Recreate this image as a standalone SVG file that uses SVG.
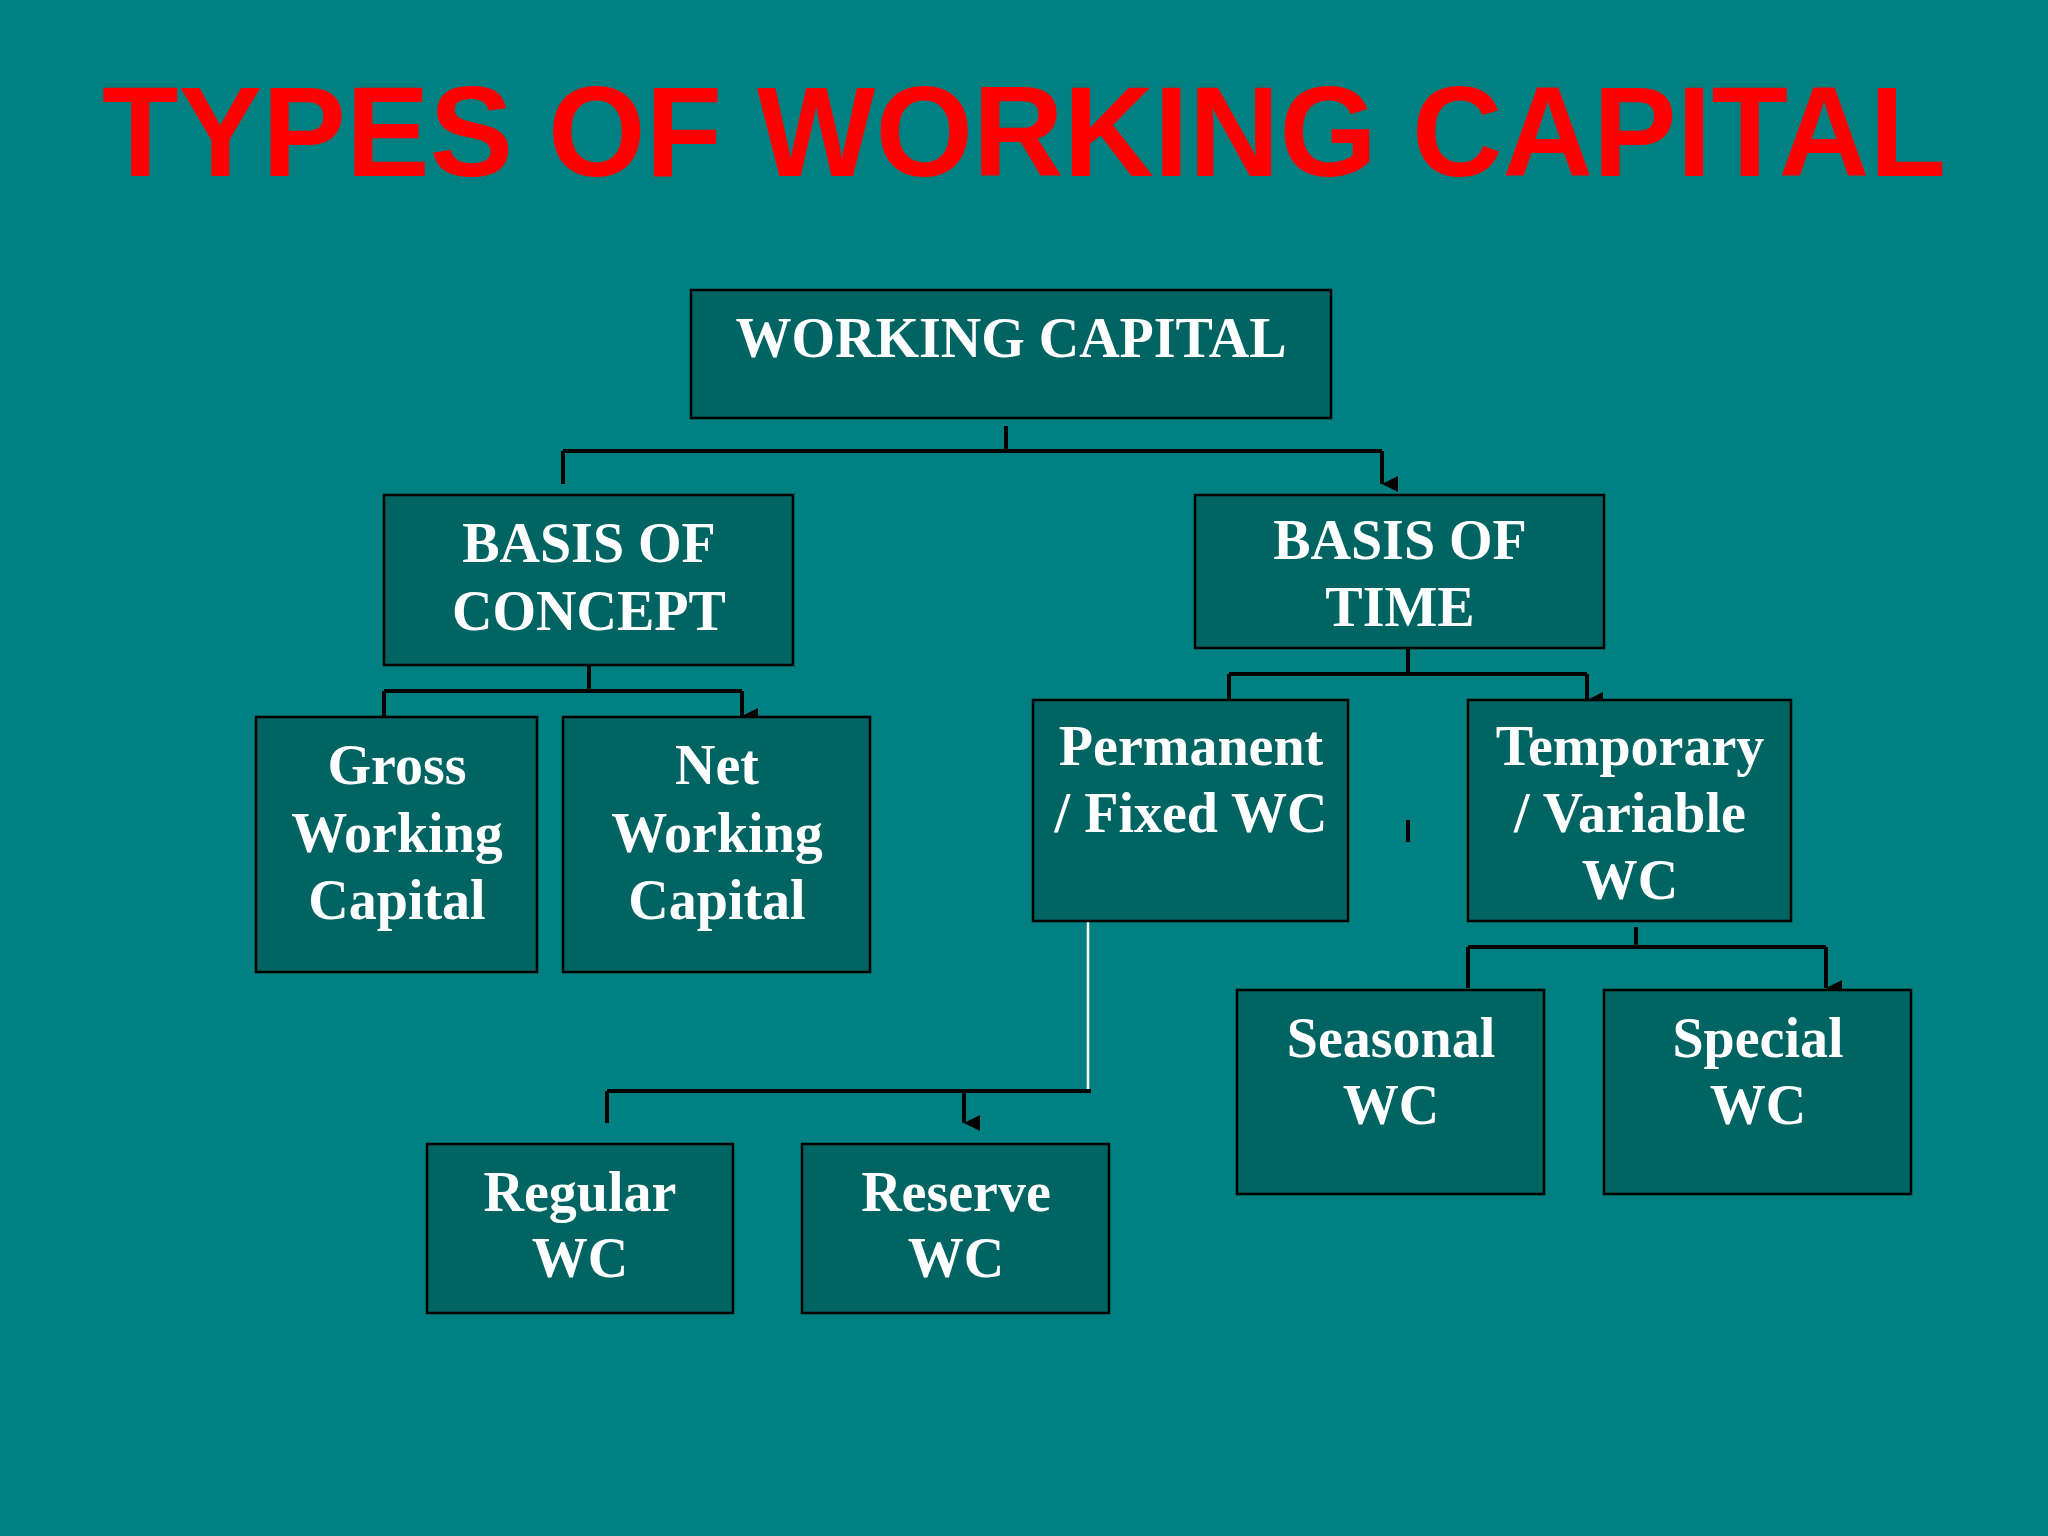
<svg xmlns="http://www.w3.org/2000/svg" width="2048" height="1536" viewBox="0 0 2048 1536">
<defs>
<style>
.b{fill:#006462;stroke:#000;stroke-width:2.5}
.t{font-family:"Liberation Serif",serif;font-weight:bold;font-size:56px;fill:#fff;text-anchor:middle}
.c{stroke:#000;stroke-width:4;fill:none}
</style>
<marker id="a" viewBox="0 0 10 10" refX="5" refY="10" markerWidth="4" markerHeight="4" orient="auto" markerUnits="strokeWidth"><path d="M0,0L10,0L5,10z" fill="#000"/></marker>
</defs>
<rect width="2048" height="1536" fill="#008080"/>
<text x="1024" y="176" font-family="Liberation Sans,Arial,sans-serif" font-weight="bold" font-size="128" fill="#ff0000" text-anchor="middle" textLength="1844" lengthAdjust="spacingAndGlyphs">TYPES OF WORKING CAPITAL</text>
<g id="connectors">
<path class="c" d="M1006,426V451M563,451H1382"/>
<path class="c" d="M563,451V484M1382,451V484" marker-end="url(#a)"/>
<path class="c" d="M589,665V691M384,691H742"/>
<path class="c" d="M384,691V716M742,691V716" marker-end="url(#a)"/>
<path class="c" d="M1408,648V674M1229,674H1587"/>
<path class="c" d="M1229,674V700M1587,674V700" marker-end="url(#a)"/>
<path class="c" d="M1408,820V842"/>
<path d="M1088,921V1091" stroke="#fff" stroke-width="2.5"/>
<path class="c" d="M607,1091H1091"/>
<path class="c" d="M607,1091V1123M964,1091V1123" marker-end="url(#a)"/>
<path class="c" d="M1636,927V947M1468,947H1826"/>
<path class="c" d="M1468,947V988M1826,947V988" marker-end="url(#a)"/>
</g>
<g id="wc"><rect class="b" x="691" y="290" width="640" height="128"/><text class="t" x="1011" y="357">WORKING CAPITAL</text></g>
<g id="concept"><rect class="b" x="384" y="495" width="409" height="170"/><text class="t" x="589" y="562">BASIS OF</text><text class="t" x="589" y="630">CONCEPT</text></g>
<g id="time"><rect class="b" x="1195" y="495" width="409" height="153"/><text class="t" x="1400" y="559">BASIS OF</text><text class="t" x="1400" y="626">TIME</text></g>
<g id="gross"><rect class="b" x="256" y="717" width="281" height="255"/><text class="t" x="397" y="784">Gross</text><text class="t" x="397" y="852">Working</text><text class="t" x="397" y="919">Capital</text></g>
<g id="net"><rect class="b" x="563" y="717" width="307" height="255"/><text class="t" x="717" y="784">Net</text><text class="t" x="717" y="852">Working</text><text class="t" x="717" y="919">Capital</text></g>
<g id="permanent"><rect class="b" x="1033" y="700" width="315" height="221"/><text class="t" x="1191" y="765">Permanent</text><text class="t" x="1191" y="832">/ Fixed WC</text></g>
<g id="temporary"><rect class="b" x="1468" y="700" width="323" height="221"/><text class="t" x="1630" y="765">Temporary</text><text class="t" x="1630" y="832">/ Variable</text><text class="t" x="1630" y="899">WC</text></g>
<g id="seasonal"><rect class="b" x="1237" y="990" width="307" height="204"/><text class="t" x="1391" y="1057">Seasonal</text><text class="t" x="1391" y="1124">WC</text></g>
<g id="special"><rect class="b" x="1604" y="990" width="307" height="204"/><text class="t" x="1758" y="1057">Special</text><text class="t" x="1758" y="1124">WC</text></g>
<g id="regular"><rect class="b" x="427" y="1144" width="306" height="169"/><text class="t" x="580" y="1211">Regular</text><text class="t" x="580" y="1277">WC</text></g>
<g id="reserve"><rect class="b" x="802" y="1144" width="307" height="169"/><text class="t" x="956" y="1211">Reserve</text><text class="t" x="956" y="1277">WC</text></g>
</svg>
